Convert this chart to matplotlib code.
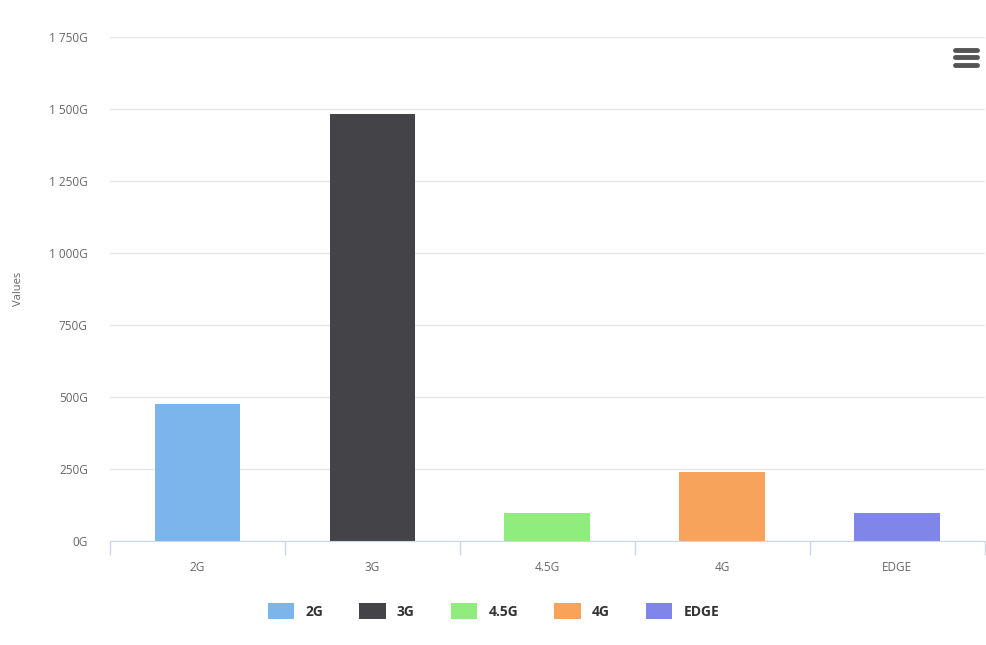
import matplotlib.pyplot as plt
from matplotlib.patches import Patch
from matplotlib.lines import Line2D

# Data
categories = ["2G", "3G", "4.5G", "4G", "EDGE"]
values = [476, 1482, 97, 240, 97]
colors = ["#7cb5ec", "#434348", "#90ed7d", "#f7a35c", "#8085e9"]
yticks = [0, 250, 500, 750, 1000, 1250, 1500, 1750]

plt.rcParams['font.family'] = ['Open Sans', 'DejaVu Sans']

fig = plt.figure(figsize=(9.87, 6.45), dpi=100)
ax = fig.add_axes([0.1115, 0.161, 0.886, 0.7816])

x = range(len(categories))
ax.bar(x, values, width=0.49, color=colors, zorder=3)

ax.set_xlim(-0.5, len(categories) - 0.5)
ax.set_ylim(0, 1750)

# y axis
ax.set_yticks(yticks)
ax.set_yticklabels([f"{v:,}G".replace(",", " ") for v in yticks], color="#666666", fontsize=8.5)
ax.tick_params(axis='y', length=0, pad=16)
ax.yaxis.grid(True, color="#e6e6e6", linewidth=1, zorder=0)
ax.set_ylabel("Values", color="#666666", fontsize=8, labelpad=18)

# x axis: labels at centers, tick marks at boundaries
ax.set_xticks(list(x))
ax.set_xticklabels(categories, color="#666666", fontsize=8.5)
ax.tick_params(axis='x', length=0, pad=14)
ax.set_xticks([i - 0.5 for i in range(len(categories) + 1)], minor=True)
ax.tick_params(axis='x', which='minor', length=10, color="#ccd6eb", width=1)

for s in ["top", "right", "left"]:
    ax.spines[s].set_visible(False)
ax.spines["bottom"].set_color("#ccd6eb")
ax.spines["bottom"].set_zorder(4)

# legend
handles = [Patch(facecolor=c, edgecolor='none') for c in colors]
leg = fig.legend(handles, categories, loc='center', bbox_to_anchor=(0.5, 0.052),
                 ncol=5, frameon=False, handlelength=1.9, handleheight=1.4,
                 columnspacing=2.6, handletextpad=0.8,
                 prop={'weight': 'bold', 'size': 10})
for t in leg.get_texts():
    t.set_color("#333333")

# menu icon
for yy in [0.923, 0.911, 0.899]:
    fig.add_artist(Line2D([0.968, 0.990], [yy, yy], color="#555555", linewidth=3.5,
                          solid_capstyle='round'))

fig.savefig("out.png", dpi=100)
